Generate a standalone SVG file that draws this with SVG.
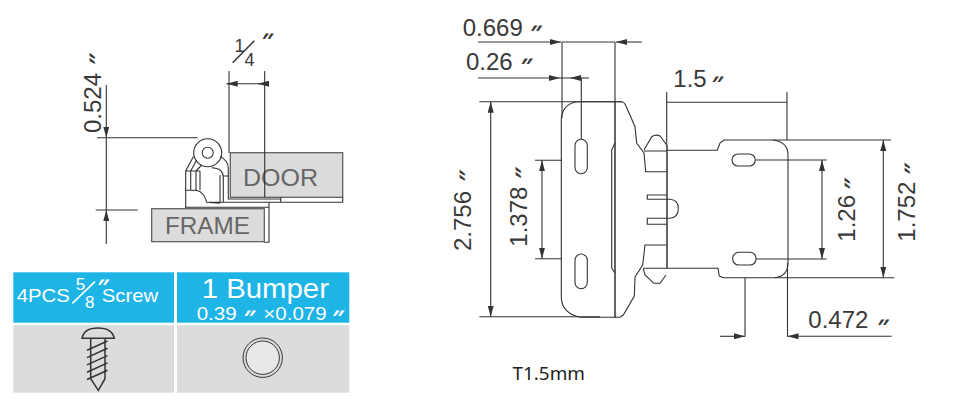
<svg xmlns="http://www.w3.org/2000/svg" width="967" height="406" viewBox="0 0 967 406">
<defs>
<marker id="a" markerUnits="userSpaceOnUse" markerWidth="12" markerHeight="6" refX="11" refY="3" orient="auto-start-reverse"><path d="M0 0L11 3L0 6z" fill="#333"/></marker>
</defs>
<style>
text{font-family:"Liberation Sans",Arial,sans-serif;fill:#3a3a3a;font-size:24px}
text.p{font-weight:bold;text-anchor:middle;font-size:21px}
text.w{fill:#fff}
.l{fill:none;stroke:#333;stroke-width:1.1}
.t{fill:none;stroke:#333;stroke-width:1.5}
.box{fill:#dcdcdc;stroke:#555;stroke-width:1.2}
.g{fill:#666}
</style>
<rect width="967" height="406" fill="#fff"/>
<g id="door-section">
<rect class="box" x="230.3" y="152.7" width="112.4" height="44.6"/>
<text class="g" x="243" y="185.6" textLength="75" lengthAdjust="spacingAndGlyphs">DOOR</text>
</g>
<g id="frame-section">
<rect class="box" x="151.7" y="208.7" width="112.6" height="33"/>
<text class="g" x="165" y="234" textLength="85" lengthAdjust="spacingAndGlyphs">FRAME</text>
<path class="l" d="M185 207.3H269V242.3H264.3M269 207.3V202.3"/>
</g>
<g id="hinge-side">
<circle class="l" cx="207.7" cy="152.7" r="14"/>
<circle class="l" cx="207.7" cy="152.7" r="5.5"/>
<path class="l" d="M185.7 207.3V171L193.3 156.7M190.7 171L196.7 160M196 171L201.7 165M185.7 171H200M190.7 171V190M196 171V190M200 171V190M185.7 190L197 190.5Q204 192 206.7 202.3L220 203.3M220 156.7Q228 160 228.3 168V199H280.7V197.3M211.7 167.7Q223 168 223.3 177V202.3M220 175V203M223.3 176H228.3M209 202.3H342.7V197.3M280.7 199V202.3"/>
</g>
<g id="hinge-front">
<path class="l" d="M561.3 118Q563 104 577 101.7H621.7Q624 101.7 626 106L635 126.7L636.7 143.3L644 153L645.7 171.7H666.7M644 150L651.7 136.7Q656 134 660 136L666.7 145M644 151H666.7"/>
<path class="l" d="M561.3 118V298Q562 313 580 317.3H620L623.3 315L634.3 296L635 277L642.7 265L645 245H666.7M643.3 268.3L645 275L654 283.3H660L666 275"/>
<path class="t" d="M615 102V317.7M667 145V268"/>
<path class="l" d="M615 143L611.7 150V268L615 273"/>
<path class="l" d="M666.7 195H647.3V199.3H666.7M666.7 218.3H647.3V224.3H666.7M666.7 199.3H670Q678.3 200 678.3 208.5Q678.3 217.5 670 218.3H666.7M643.3 268.3H718L719.3 276L723.3 277.7H775Q788 276 788 263V155Q788 142 773.3 140H724L720 143L717.3 150.3H666.7"/>
<rect class="l" x="575" y="139.3" width="12.3" height="34.4" rx="6.1"/>
<rect class="l" x="575" y="254" width="12.3" height="34.7" rx="6.1"/>
<rect class="l" x="732" y="154" width="23.3" height="12" rx="6"/>
<rect class="l" x="732.7" y="252.3" width="23.3" height="12.7" rx="6"/>
</g>
<g id="connectors">
<path class="l" d="M229 71V153M264.7 71V197"/>
<path class="l" d="M237 83.7H226.7" marker-end="url(#a)"/>
<path class="l" d="M258 83.7H268" marker-start="url(#a)"/>
<path class="l" d="M226.7 83.7H268"/>
<path class="l" d="M97 137.7H197.7M95.7 210H137.7M106.3 137.7V210"/>
<path class="l" d="M106.3 85V137.7" marker-end="url(#a)"/>
<path class="l" d="M106.3 244V210" marker-end="url(#a)"/>
<path class="l" d="M478 42H561" marker-end="url(#a)"/>
<path class="l" d="M641.7 42H616" marker-end="url(#a)"/>
<path class="l" d="M562 42H615M562 42V118M615 42V102"/>
<path class="l" d="M478 78H560" marker-end="url(#a)"/>
<path class="l" d="M589 78H570" marker-end="url(#a)"/>
<path class="l" d="M560 78H570M581.3 78V139.3"/>
<path class="l" d="M479.3 101.7H622M479.3 316.7H600"/>
<path class="l" d="M490.7 101.7V316.7" marker-start="url(#a)" marker-end="url(#a)"/>
<path class="l" d="M535 160.3H562M535 258.7H562"/>
<path class="l" d="M542 160.3V258.7" marker-start="url(#a)" marker-end="url(#a)"/>
<path class="l" d="M666.7 92V145M787 92V140M666.7 102.3H787"/>
<path class="l" d="M756 160H826.7M756 259H826.7"/>
<path class="l" d="M822 160V259" marker-start="url(#a)" marker-end="url(#a)"/>
<path class="l" d="M773 140H891M775 277.7H894.3"/>
<path class="l" d="M883.3 140V277.7" marker-start="url(#a)" marker-end="url(#a)"/>
<path class="l" d="M745 277.7V336.7M787.5 263V336.7"/>
<path class="l" d="M720 336.3H745" marker-end="url(#a)"/>
<path class="l" d="M891.7 336.3H787.5" marker-end="url(#a)"/>
</g>
<g id="labels">
<text transform="translate(100.7 133) rotate(-90)">0.524</text>
<text class="p" y="12.6" transform="translate(91.7 58.3) rotate(-90) skewX(-25)">″</text>
<text style="font-size:18px"><tspan x="234.5" y="52.3">1</tspan><tspan x="244.6" y="66">4</tspan></text>
<path class="t" d="M232.7 62.7L254.3 40.7"/>
<text class="p" y="12.6" transform="translate(268.3 35) skewX(-25)">″</text>
<text x="462.7" y="35.7">0.669</text>
<text class="p" y="12.6" transform="translate(537 27) skewX(-25)">″</text>
<text x="466" y="70">0.26</text>
<text class="p" y="12.6" transform="translate(527.3 60) skewX(-25)">″</text>
<text x="673.3" y="87.3">1.5</text>
<text class="p" y="12.6" transform="translate(718.3 78) skewX(-25)">″</text>
<text x="808.3" y="328.3">0.472</text>
<text class="p" y="12.6" transform="translate(884 321.7) skewX(-25)">″</text>
<text transform="translate(470.7 251) rotate(-90)">2.756</text>
<text class="p" y="12.6" transform="translate(461.7 175) rotate(-90) skewX(-25)">″</text>
<text transform="translate(527.3 246.7) rotate(-90)">1.378</text>
<text class="p" y="12.6" transform="translate(517.3 172.3) rotate(-90) skewX(-25)">″</text>
<text transform="translate(855 241.7) rotate(-90)">1.26</text>
<text class="p" y="12.6" transform="translate(846.7 183) rotate(-90) skewX(-25)">″</text>
<text transform="translate(915 241.7) rotate(-90)">1.752</text>
<text class="p" y="12.6" transform="translate(906 168) rotate(-90) skewX(-25)">″</text>
<text x="512.5" y="380" style="font-family:'Noto Sans',sans-serif;font-size:17.5px;fill:#222" textLength="72.5" lengthAdjust="spacingAndGlyphs">T1.5mm</text>
</g>
<g id="screw-panel">
<rect x="13.3" y="272.3" width="160.7" height="50.4" fill="#1fb4e6"/>
<rect x="13.3" y="325.3" width="160.7" height="67.4" fill="#dddcdb"/>
<text class="w" x="16.7" y="302.3" style="font-size:19px" textLength="53" lengthAdjust="spacingAndGlyphs">4PCS</text>
<text class="w" style="font-size:17px"><tspan x="75.7" y="290">5</tspan><tspan x="85" y="307.5">8</tspan></text>
<path d="M72.3 303.3L95 281.7" stroke="#fff" stroke-width="1.6"/>
<text class="w p" y="12.6" transform="translate(104 281) skewX(-25)">″</text>
<text class="w" x="101.7" y="302.3" style="font-size:19px" textLength="56.6" lengthAdjust="spacingAndGlyphs">Screw</text>
<path class="t" d="M82 338.3Q84 328 98 328Q112 328 114.3 338.3zM90.7 338.3V378.7L98.3 390.3L105 378.7V338.3M87 350.3L107.5 341M87 357.6L107.5 348.3M87 364.9L107.5 355.6M87 372.2L107.5 362.9M87 379.5L107.5 370.2"/>
</g>
<g id="bumper-panel">
<rect x="177" y="272.3" width="172.3" height="50.4" fill="#1fb4e6"/>
<rect x="177" y="325.3" width="172.3" height="67.4" fill="#dddcdb"/>
<text class="w" x="201.7" y="298" style="font-size:27px" textLength="127.3" lengthAdjust="spacingAndGlyphs">1 Bumper</text>
<text class="w" x="196.7" y="320.2" style="font-size:18px" textLength="40" lengthAdjust="spacingAndGlyphs">0.39</text>
<text class="w p" y="12.6" transform="translate(250.3 312) skewX(-25)">″</text>
<text class="w" x="263.3" y="320.2" style="font-size:18px" textLength="63.4" lengthAdjust="spacingAndGlyphs">×0.079</text>
<text class="w p" y="12.6" transform="translate(339 312) skewX(-25)">″</text>
<circle cx="262.7" cy="357.7" r="19.7" fill="none" stroke="#333"/>
<circle cx="262.7" cy="357.7" r="16.7" fill="#e8e8ea" stroke="#333"/>
</g>
</svg>
